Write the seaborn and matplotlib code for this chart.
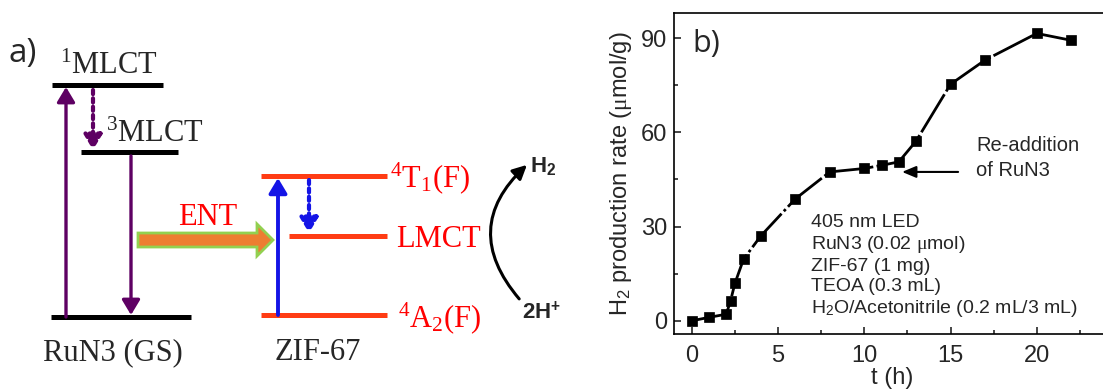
"""
RuN3 / ZIF-67 光催化产氢示意图 + H2 产率曲线
"""
import matplotlib.pyplot as plt
import seaborn as sns
from matplotlib.patches import FancyArrow, FancyArrowPatch
from matplotlib.ticker import AutoMinorLocator

# ===== 数据 =====
# b) H2 产率随时间
t_h = [0, 1, 2, 2.25, 2.5, 3, 4, 6, 8, 10, 11, 12, 13, 15, 17, 20, 22]
h2_rate = [0, 1.1, 2.1, 6.4, 11.9, 19.6, 27.0, 38.8, 47.4, 48.5, 49.5,
           50.6, 57.2, 75.3, 83.0, 91.5, 89.3]
x_ticks = [0, 5, 10, 15, 20]
y_ticks = [0, 30, 60, 90]
conditions = ['405 nm LED', r'RuN3 (0.02 $\mathrm{\mu}$mol)', 'ZIF-67 (1 mg)',
              'TEOA (0.3 mL)', r'H$_{\mathsf{2}}$O/Acetonitrile (0.2 mL/3 mL)']
readd_label = 'Re-addition\nof RuN3'

# a) 能级图（示意图，纵坐标为画面像素）
ru_labels = [r'$^{1}$MLCT', r'$^{3}$MLCT']
ru_levels = [85, 152, 317]          # 1MLCT, 3MLCT, GS
zif_labels = [r'$^{4}$T$_{1}$(F)', 'LMCT', r'$^{4}$A$_{2}$(F)']
zif_levels = [176, 236, 315]        # 4T1, LMCT, 4A2

# ===== 风格 =====
sns.set_style('ticks')
plt.rcParams['font.family'] = ['Liberation Sans', 'DejaVu Sans']
plt.rcParams['mathtext.fontset'] = 'custom'
plt.rcParams['mathtext.rm'] = 'Liberation Serif'
plt.rcParams['mathtext.it'] = 'Liberation Serif:italic'
plt.rcParams['mathtext.bf'] = 'Liberation Sans:bold'
plt.rcParams['mathtext.sf'] = 'Liberation Sans'
SERIF = ['Liberation Serif', 'DejaVu Serif']
C_PURPLE = '#5E0063'
C_LEVEL = '#FF3C14'
C_RED = '#FF0000'
C_BLUE = '#1414E6'

W, H = 1103, 392
fig = plt.figure(figsize=(W / 100, H / 100), dpi=100)

# ============================================================
# a) 能级示意图
# ============================================================
ax_a = fig.add_axes([0, 0, 600 / W, 1])
ax_a.set_xlim(0, 600)
ax_a.set_ylim(H, 0)
ax_a.axis('off')

ru_spans = [(52, 163), (81, 178), (51, 191)]
for y, (x0, x1) in zip(ru_levels, ru_spans):
    ax_a.hlines(y, x0, x1, color='black', lw=3.6)
zif_spans = [(261, 387), (289, 387), (261, 387)]
for y, (x0, x1) in zip(zif_levels, zif_spans):
    ax_a.hlines(y, x0, x1, color=C_LEVEL, lw=3.6)


def level_arrow(x, y_from, y_to, color, ls='-', lw=2.4):
    ax_a.annotate('', xy=(x, y_to), xytext=(x, y_from),
                  arrowprops=dict(arrowstyle='-|>,head_length=0.5,head_width=0.3',
                                  color=color, lw=lw, linestyle=ls,
                                  shrinkA=0, shrinkB=0, mutation_scale=18))


level_arrow(66, ru_levels[2], ru_levels[0] + 2, C_PURPLE)
level_arrow(93, ru_levels[0] + 5, ru_levels[1] - 2, C_PURPLE, ls=(0, (1, 1)), lw=3)
level_arrow(131, ru_levels[1] + 4, ru_levels[2] - 2, C_PURPLE)
level_arrow(278, zif_levels[2], zif_levels[0] + 2, C_BLUE, lw=2.8)
level_arrow(309, zif_levels[0] + 4, zif_levels[1] - 3, C_BLUE, ls=(0, (1, 1)), lw=3)

# ENT 能量转移箭头
ax_a.add_patch(FancyArrow(138, 240, 135, 0, width=14, head_width=32,
                          head_length=16, length_includes_head=True,
                          fc='#ED7D31', ec='#92D050', lw=2))
ax_a.text(207.5, 225, 'ENT', color=C_RED, fontsize=22, family=SERIF,
          ha='center', va='baseline')

# 能级标签
ax_a.text(60, 74, ru_labels[0], fontsize=22, family=SERIF, va='baseline')
ax_a.text(106, 142, ru_labels[1], fontsize=22, family=SERIF, va='baseline')
ax_a.text(113, 360, 'RuN3 (GS)', fontsize=22, family=SERIF,
          ha='center', va='baseline')
ax_a.text(318, 360, 'ZIF-67', fontsize=22, family=SERIF,
          ha='center', va='baseline')
for lab, x, yb in zip(zif_labels, [390, 396, 398], [187, 247, 327]):
    ax_a.text(x, yb, lab, fontsize=22, family=SERIF, color=C_RED,
              va='baseline')

# 2H+ -> H2 弧形箭头
ax_a.add_patch(FancyArrowPatch((521, 301), (529, 163),
                               connectionstyle='arc3,rad=-0.49',
                               arrowstyle='-|>,head_length=0.6,head_width=0.3',
                               mutation_scale=14, lw=2.2, color='black'))
ax_a.text(530, 172, r'H$_{\mathbf{2}}$', fontsize=16, fontweight='bold',
          va='baseline')
ax_a.text(522, 318, r'2H$^{\mathbf{+}}$', fontsize=16, fontweight='bold',
          va='baseline')

fig.text(9 / W, 1 - 62 / H, 'a)', fontsize=24, family=['Open Sans', 'DejaVu Sans'],
         va='baseline')

# ============================================================
# b) H2 产率曲线
# ============================================================
x_lo, x_hi = -1.03, 24.3
px_per_t = 17.25
ax_b = fig.add_axes([674 / W, 58 / H, (x_hi - x_lo) * px_per_t / W, 321 / H])
sns.lineplot(x=t_h, y=h2_rate, ax=ax_b, color='black', marker='s',
             markersize=7, mec='black', mew=0.5, lw=2,
             linestyle=(0, (16, 1.2, 1, 1.2)))

ax_b.set_xlim(x_lo, x_hi)
ax_b.set_ylim(-4.2, 98)
ax_b.set_xticks(x_ticks)
ax_b.set_yticks(y_ticks)
ax_b.xaxis.set_minor_locator(AutoMinorLocator(2))
ax_b.yaxis.set_minor_locator(AutoMinorLocator(2))
ax_b.tick_params(which='major', direction='in', length=5, width=1.2,
                 labelsize=17, pad=5)
ax_b.tick_params(which='minor', direction='in', length=3, width=1.2)
ax_b.tick_params(axis='x', pad=8)
for s in ax_b.spines.values():
    s.set_linewidth(1.2)
    s.set_color('black')

ax_b.set_xlabel('t (h)', fontsize=17, labelpad=0)
ax_b.set_ylabel(r'H$_{\mathsf{2}}$ production rate ($\mathrm{\mu}$mol/g)',
                fontsize=17, labelpad=5)

ax_b.text(6.9, 17.3, '\n'.join(conditions), fontsize=14, ha='left',
          va='center')
ax_b.text(16.48, 51.7, readd_label, fontsize=14.5, ha='left', va='center',
          linespacing=1.4)
ax_b.annotate('', xy=(12.19, 47.4), xytext=(15.44, 47.4),
              arrowprops=dict(arrowstyle='-|>,head_length=0.6,head_width=0.25',
                              color='black', lw=1.5, mutation_scale=14,
                              shrinkA=0, shrinkB=0))

fig.text(692 / W, 1 - 44 / H, 'b)', fontsize=22,
         family=['Open Sans', 'DejaVu Sans'], va='center')

plt.savefig('out.png', dpi=100)
